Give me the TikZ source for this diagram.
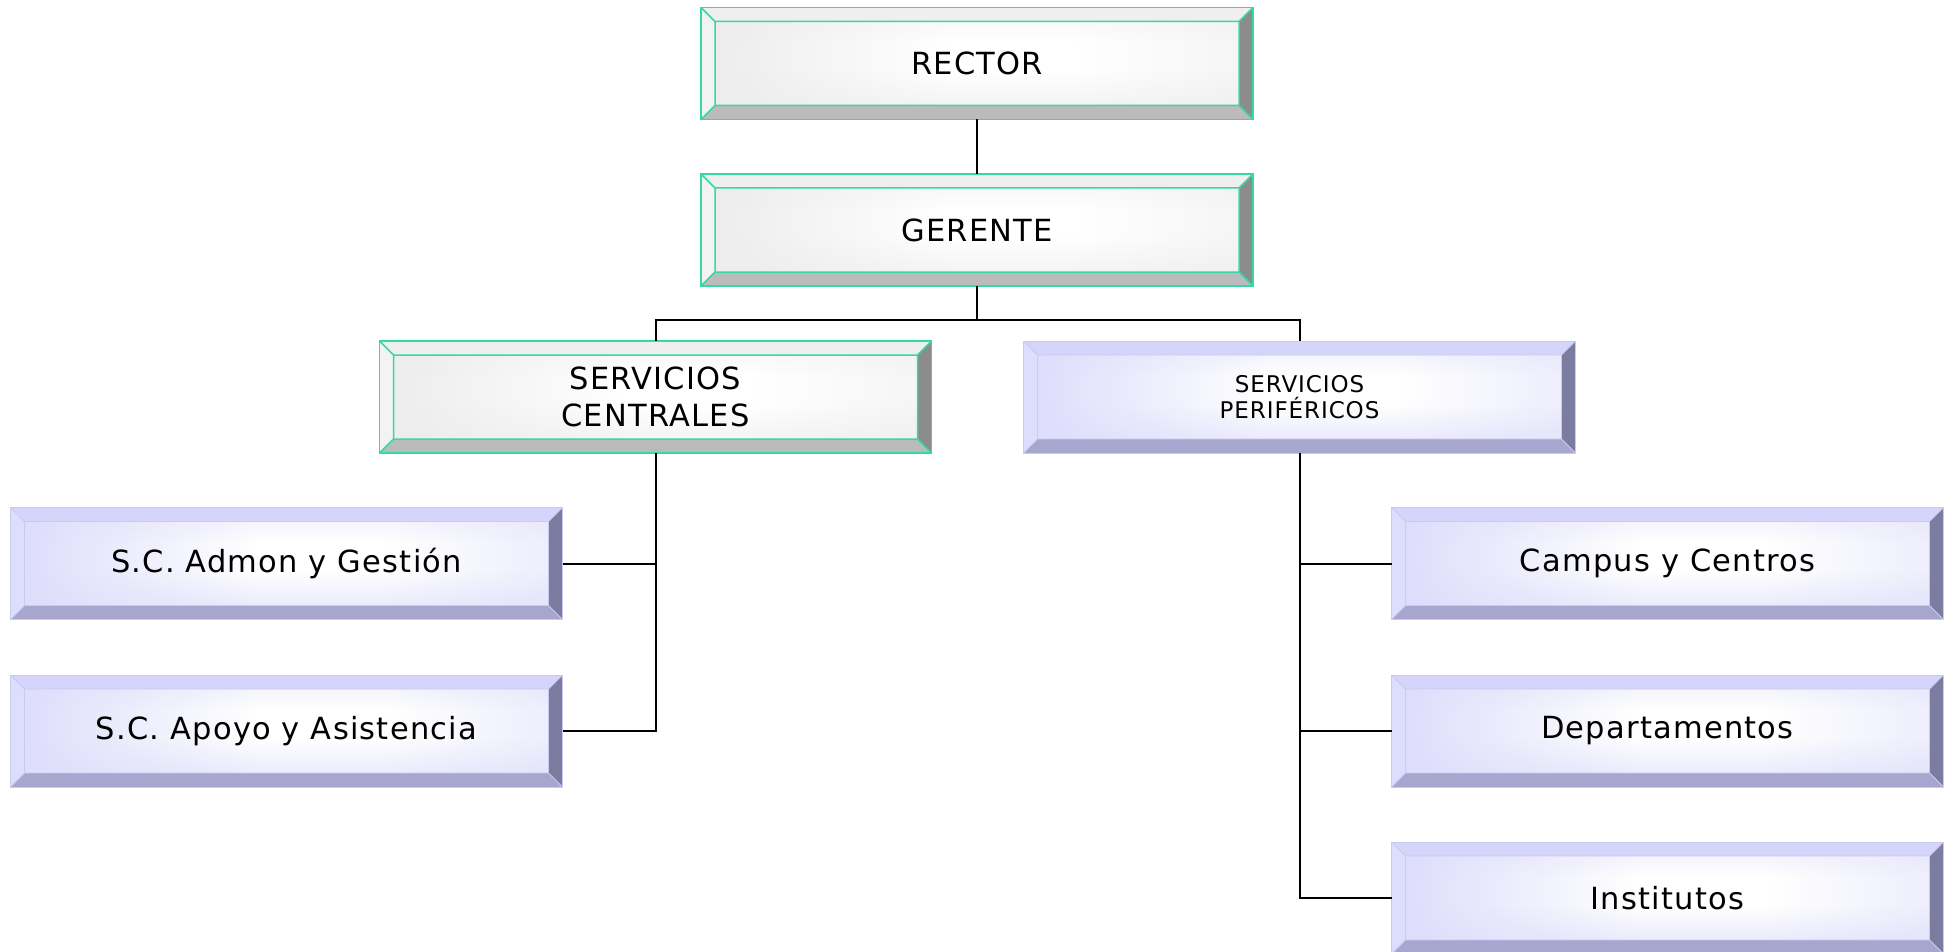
\documentclass[tikz,border=0pt]{standalone}
\usepackage{fontspec}
\setmainfont{DejaVu Sans}[LetterSpace=4]
\usetikzlibrary{calc,fadings}

% bevel palettes
\definecolor{gTop}{HTML}{EFEFEF}
\definecolor{gLeft}{HTML}{F3F3F3}
\definecolor{gRight}{HTML}{8C8C8C}
\definecolor{gBottom}{HTML}{BBBBBB}
\definecolor{gFace}{HTML}{EDEDED}
\definecolor{gEdge}{HTML}{36D8A8}
\definecolor{bTop}{HTML}{D5D5FB}
\definecolor{bLeft}{HTML}{DDDDFD}
\definecolor{bRight}{HTML}{7C7CA0}
\definecolor{bBottom}{HTML}{A6A6CE}
\definecolor{bFace}{HTML}{DEDEFC}
\definecolor{bEdge}{HTML}{C9C9F2}

\tikzset{
  % beveled plate: #1 top, #2 left, #3 right, #4 bottom, #5 face tint, #6 edge, #7 edge width
  bevelbox/.style n args={7}{
    minimum width=552pt, minimum height=112pt, inner sep=0pt, outer sep=0pt,
    font=\fontsize{30.5}{37}\selectfont, align=center, draw=#6, line width=#7,
    path picture={
      \path (path picture bounding box.north west) coordinate (pnw)
            (path picture bounding box.north east) coordinate (pne)
            (path picture bounding box.south west) coordinate (psw)
            (path picture bounding box.south east) coordinate (pse);
      \path ([shift={(14pt,-14pt)}]pnw) coordinate (inw)
            ([shift={(-14pt,-14pt)}]pne) coordinate (ine)
            ([shift={(14pt,14pt)}]psw) coordinate (isw)
            ([shift={(-14pt,14pt)}]pse) coordinate (ise);
      \fill[#1] (pnw) -- (pne) -- (ine) -- (inw) -- cycle;
      \fill[#4] (psw) -- (pse) -- (ise) -- (isw) -- cycle;
      \fill[#2] (pnw) -- (psw) -- (isw) -- (inw) -- cycle;
      \fill[#3] (pne) -- (pse) -- (ise) -- (ine) -- cycle;
      % face: white, tint fading in from the ends and the lower edge
      \fill[white] (inw) rectangle (ise);
      \fill[#5, path fading=east] (inw) rectangle ([xshift=230pt]isw);
      \fill[#5, path fading=west, opacity=0.5] ([xshift=-160pt]ine) rectangle (ise);
      \fill[#5, path fading=north, opacity=0.6] ([yshift=34pt]isw) rectangle (ise);
      \fill[#5, path fading=south, opacity=0.3] (inw) rectangle ([yshift=-20pt]ine);
      \draw[#6, line width=#7] (inw) rectangle (ise)
            (pnw) -- (inw) (pne) -- (ine) (psw) -- (isw) (pse) -- (ise);
    }
  },
  greenbox/.style={bevelbox={gTop}{gLeft}{gRight}{gBottom}{gFace}{gEdge}{1.5pt}},
  bluebox/.style={bevelbox={bTop}{bLeft}{bRight}{bBottom}{bFace}{bEdge}{0.9pt}},
  link/.style={draw=black, line width=2pt}
}

\begin{document}
\begin{tikzpicture}[x=1pt, y=-1pt]
  \useasboundingbox[fill=white] (0,0) rectangle (1953,952);

  \node[greenbox] (rector)  at (977,63.5) {RECTOR};
  \node[greenbox] (gerente) at (977,230)  {GERENTE};
  \node[greenbox] (central) at (655.5,397) {SERVICIOS\\CENTRALES};
  \node[bluebox, font=\fontsize{23}{26.5}\selectfont] (perif) at (1299.5,397) {SERVICIOS\\PERIFÉRICOS};

  \node[bluebox] (admon)  at (286.5,563.5) {S.C. Admon y Gestión};
  \node[bluebox] (apoyo)  at (286.5,731)   {S.C. Apoyo y Asistencia};

  \node[bluebox] (campus) at (1667.5,563.5) {Campus y Centros};
  \node[bluebox] (depto)  at (1667.5,731)   {Departamentos};
  \node[bluebox] (inst)   at (1667.5,898)   {Institutos};

  \coordinate (bus) at (0,320);

  \draw[link] (rector.south) -- (gerente.north);
  \draw[link] (gerente.south) -- (gerente.south |- bus);
  \draw[link] (central.north) |- (gerente.south |- bus) -| (perif.north);

  \draw[link] (central.south) |- (admon.east);
  \draw[link] (central.south) |- (apoyo.east);

  \draw[link] (perif.south) |- (campus.west);
  \draw[link] (perif.south) |- (depto.west);
  \draw[link] (perif.south) |- (inst.west);
\end{tikzpicture}
\end{document}
